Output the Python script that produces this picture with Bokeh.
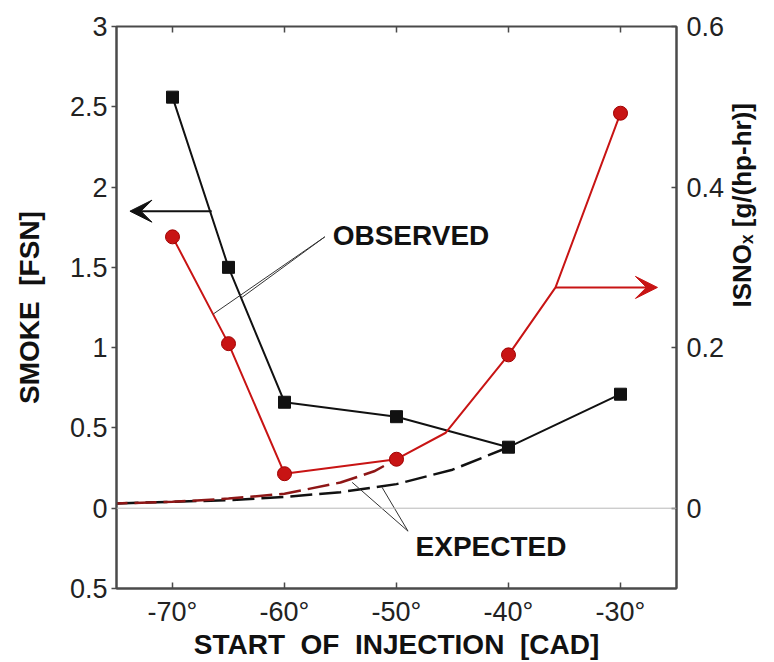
import math
from bokeh.plotting import figure
from bokeh.models import (Range1d, LinearAxis, Span, Arrow, VeeHead, Label,
                          FixedTicker)
from bokeh.embed import file_html
from bokeh.resources import INLINE

# ---------------- data ----------------
injection_cad = [-70, -65, -60, -50, -40, -30]
smoke_fsn = [2.56, 1.50, 0.66, 0.57, 0.38, 0.71]
isnox = [0.338, 0.205, 0.043, 0.061, 0.191, 0.492]

# trace of the drawn ISNOx curve (incl. between markers)
isnox_curve_cad = [-70, -65, -60, -50, -45.6, -40, -35.8, -30]
isnox_curve = [0.338, 0.205, 0.043, 0.061, 0.094, 0.191, 0.275, 0.492]

expected_smoke_cad = [-75, -70, -65, -60, -55, -50, -45, -40]
expected_smoke_fsn = [0.03, 0.04, 0.05, 0.07, 0.10, 0.15, 0.24, 0.38]
expected_nox_cad = [-75, -70, -65, -60, -55, -52, -50]
expected_nox = [0.006, 0.008, 0.012, 0.018, 0.032, 0.046, 0.061]

x_ticks = [-70, -60, -50, -40, -30]
x_tick_labels = ["-70°", "-60°", "-50°", "-40°", "-30°"]
smoke_ticks = [-0.5, 0, 0.5, 1, 1.5, 2, 2.5, 3]
smoke_tick_labels = ["0.5", "0", "0.5", "1", "1.5", "2", "2.5", "3"]
nox_ticks = [0, 0.2, 0.4, 0.6]
nox_tick_labels = ["0", "0.2", "0.4", "0.6"]

# ---------------- styling ----------------
FONT = "Liberation Sans"
BLACK = "#111111"
RED = "#c81414"
DARK_RED = "#8e1616"
AXIS = "#4a4a4a"
NBSP = "\u00a0"

p = figure(width=774, height=662,
           x_range=Range1d(-75, -25), y_range=Range1d(-0.5, 3),
           output_backend="svg", toolbar_location=None,
           min_border_left=116, min_border_right=96,
           min_border_top=26, min_border_bottom=72,
           background_fill_color="white", border_fill_color="white")
p.extra_y_ranges = {"nox": Range1d(-0.1, 0.6)}
p.xgrid.visible = False
p.ygrid.visible = False
p.outline_line_color = AXIS
p.outline_line_width = 2


def style_axis(ax, ticks, labels):
    ax.ticker = FixedTicker(ticks=ticks)
    ax.major_label_overrides = {t: l for t, l in zip(ticks, labels)}
    ax.minor_tick_line_color = None
    ax.axis_line_color = AXIS
    ax.axis_line_width = 2
    ax.major_tick_line_color = AXIS
    ax.major_tick_line_width = 1.5
    ax.major_label_text_font = FONT
    ax.major_label_text_font_size = "27px"
    ax.major_label_text_color = "#222222"
    ax.axis_label_text_font = FONT
    ax.axis_label_text_font_style = "bold"
    ax.axis_label_text_color = "#111111"


xa = p.xaxis[0]
style_axis(xa, x_ticks, x_tick_labels)
xa.major_tick_in = 6
xa.major_tick_out = 0
xa.major_label_standoff = 8
xa.axis_label = ("START" + NBSP * 2 + "OF" + NBSP * 2 + "INJECTION"
                 + NBSP * 2 + "[CAD]")
xa.axis_label_text_font_size = "28px"
xa.axis_label_standoff = -1

ya = p.yaxis[0]
style_axis(ya, smoke_ticks, smoke_tick_labels)
ya.major_tick_in = 0
ya.major_tick_out = 5
ya.major_label_standoff = 4
ya.axis_label = "SMOKE" + NBSP * 2 + "[FSN]"
ya.axis_label_text_font_size = "28px"
ya.axis_label_standoff = 22

ra = LinearAxis(y_range_name="nox")
style_axis(ra, nox_ticks, nox_tick_labels)
ra.major_tick_in = 5
ra.major_tick_out = 0
ra.major_label_standoff = 10
p.add_layout(ra, "right")

# title-only axis on the right, reading bottom-to-top like the reference
rt = LinearAxis(y_range_name="nox", ticker=FixedTicker(ticks=[]),
                bounds=(0.036, 0.236))
rt.axis_line_color = None
rt.major_tick_line_color = None
rt.minor_tick_line_color = None
rt.axis_label = "ISNOₓ [g/(hp-hr)]"
rt.axis_label_text_font = FONT
rt.axis_label_text_font_style = "bold"
rt.axis_label_text_font_size = "26px"
rt.axis_label_text_color = "#111111"
rt.axis_label_standoff = 14
rt.axis_label_orientation = math.pi / 2
p.add_layout(rt, "right")

# inward ticks along the top edge of the frame
p.ray(x=x_ticks, y=[smoke_ticks[-1]] * len(x_ticks), length=6,
      length_units="screen", angle=-math.pi / 2,
      line_color=AXIS, line_width=1.5)

# zero line
p.add_layout(Span(location=0, dimension="width", line_color="#b8b8b8",
                  line_width=1))

# expected (dashed) curves
p.line(expected_smoke_cad, expected_smoke_fsn, line_color=BLACK,
       line_width=2.5, line_dash="22 7")
p.line(expected_nox_cad, expected_nox, y_range_name="nox",
       line_color=DARK_RED, line_width=2.5, line_dash="22 7",
       line_dash_offset=11)

# observed curves
p.line(injection_cad, smoke_fsn, line_color=BLACK, line_width=2)
p.scatter(injection_cad, smoke_fsn, marker="square", size=12,
          fill_color=BLACK, line_color=BLACK)
p.line(isnox_curve_cad, isnox_curve, y_range_name="nox", line_color=RED,
       line_width=2)
p.scatter(injection_cad, isnox, y_range_name="nox", marker="circle", size=14,
          fill_color=RED, line_color="#a00000")

# axis-pointing arrows
p.add_layout(Arrow(end=VeeHead(size=22, fill_color=BLACK, line_color=BLACK),
                   x_start=-66.5, y_start=1.85, x_end=-73.8, y_end=1.85,
                   line_color=BLACK, line_width=2))
p.add_layout(Arrow(end=VeeHead(size=22, fill_color=RED, line_color=RED),
                   x_start=-35.8, y_start=0.275, x_end=-26.7, y_end=0.275,
                   y_range_name="nox", line_color=RED, line_width=2))

# annotation leaders
p.line([-56.4, -63.85], [1.69, 1.31], line_color="#333333", line_width=1)
p.line([-56.4, -66.35], [1.69, 1.21], line_color="#333333", line_width=1)
p.line([-48.97, -53.96], [-0.143, 0.161], line_color="#333333", line_width=1)
p.line([-48.97, -51.29], [-0.143, 0.13], line_color="#333333", line_width=1)

p.add_layout(Label(x=-55.7, y=1.70, text="OBSERVED", text_baseline="middle",
                   text_font=FONT, text_font_style="bold",
                   text_font_size="28px", text_color="#111111"))
p.add_layout(Label(x=-48.3, y=-0.236, text="EXPECTED", text_baseline="middle",
                   text_font=FONT, text_font_style="bold",
                   text_font_size="28px", text_color="#111111"))

open("out.html", "w").write(file_html(p, INLINE))
